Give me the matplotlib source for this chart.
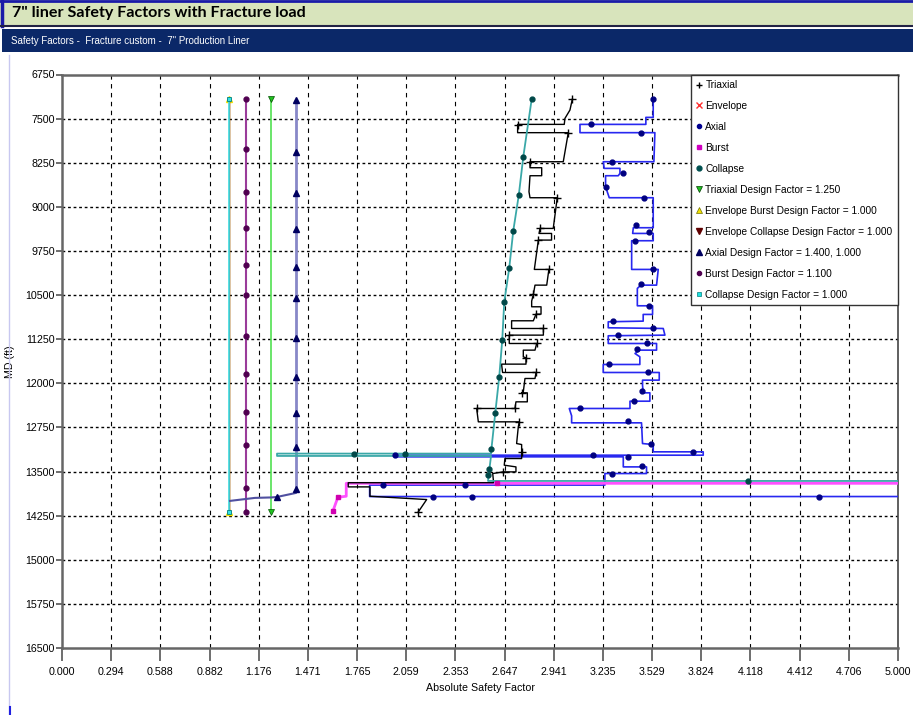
import matplotlib
matplotlib.use("Agg")
import matplotlib.pyplot as plt
from matplotlib.lines import Line2D
from matplotlib.patches import Rectangle
from matplotlib import font_manager
import numpy as np

_names = {f.name for f in font_manager.fontManager.ttflist}
NARROW = "Liberation Sans Narrow" if "Liberation Sans Narrow" in _names else "Liberation Sans"
NARROW_SCALE = 1.0 if NARROW == "Liberation Sans Narrow" else 0.85
TITLEFONT = "Lato" if "Lato" in _names else "DejaVu Sans"

# ---------------- data ----------------
x_ticks = np.linspace(0, 5, 18)
y_ticks = list(range(6750, 16501, 750))

# design factor lines (safety factor, top/bottom MD)
df_top, df_bot = 7160, 14190
collapse_df = 1.000
burst_df = 1.100
triaxial_df = 1.250
axial_df = 1.400
env_burst_df = 1.000
env_collapse_df = 1.000

burst_df_md = [7167, 8017, 8749, 9361, 9990, 10500, 11198, 11844, 12490, 13052, 13783, 14192]
axial_df_md = [7184, 8068, 8766, 9378, 10025, 10552, 11232, 11895, 12507, 13086, 13800]
axial_df_tail_sf = [1.400, 1.400, 1.288, 1.256, 1.154, 1.005]
axial_df_tail_md = [13800, 13863, 13931, 13940, 13948, 13999]
axial_df_tail_mk_sf = [1.288]
axial_df_tail_mk_md = [13931]

# Collapse
col_sf = [2.809, 2.759, 2.732, 2.699, 2.675, 2.645, 2.633, 2.615, 2.591, 2.568,
          2.566, 1.286, 1.286, 2.566, 2.556, 2.548, 6.5]
col_md = [7172, 8148, 8800, 9407, 10036, 10620, 11266, 11890, 12513, 13125,
          13195, 13195, 13235, 13235, 13465, 13660, 13660]
col_mk_sf = [2.809, 2.759, 2.732, 2.699, 2.675, 2.645, 2.633, 2.615, 2.591, 2.568,
             1.746, 2.051, 2.556, 2.548, 4.103]
col_mk_md = [7172, 8148, 8800, 9407, 10036, 10620, 11266, 11890, 12513, 13125,
             13200, 13200, 13465, 13560, 13660]

# Burst
bur_sf = [1.62, 1.65, 1.70, 1.70, 6.5]
bur_md = [14175, 13937, 13920, 13700, 13700]
bur_mk_sf = [1.62, 1.65, 2.60]
bur_mk_md = [14175, 13937, 13700]

# Triaxial
tri_sf = [3.052, 3.038, 3.008, 3.004, 2.725, 2.725, 3.028, 2.998, 2.799, 2.799,
          2.869, 2.869, 2.799, 2.793, 2.799, 2.962, 2.938, 2.859, 2.853, 2.928,
          2.928, 2.849, 2.825, 2.912, 2.899, 2.829, 2.819,
          2.809, 2.809, 2.865, 2.865, 2.835, 2.819, 2.689, 2.689, 2.879, 2.879,
          2.675, 2.675, 2.839, 2.829, 2.759, 2.759, 2.775, 2.775, 2.629, 2.635,
          2.835, 2.829, 2.769, 2.759, 2.749, 2.783, 2.783, 2.715, 2.709, 2.480,
          2.490, 2.735, 2.729, 2.719, 2.749, 2.749, 2.749, 2.649, 2.645, 2.715,
          2.715, 2.639, 2.576, 2.580, 2.580, 1.712, 1.712, 1.842, 1.842, 2.181, 2.131]
tri_md = [7172, 7354, 7496, 7598, 7598, 7739, 7739, 8233, 8233, 8335,
          8335, 8471, 8471, 8743, 8845, 8845, 9367, 9367, 9452, 9452,
          9565, 9565, 10064, 10064, 10331, 10331, 10489,
          10603, 10699, 10699, 10824, 10824, 10937, 10937, 11068, 11068, 11181,
          11181, 11323, 11323, 11436, 11436, 11550, 11567, 11674, 11674, 11816,
          11816, 11918, 11918, 12145, 12162, 12162, 12315, 12315, 12428, 12428,
          12655, 12655, 12740, 13024, 13041, 13165, 13279, 13279, 13392, 13421,
          13506, 13506, 13534, 13647, 13690, 13690, 13761, 13761, 13920, 13976, 14186]
tri_mk_sf = [3.052, 2.725, 3.028, 2.799, 2.962, 2.859, 2.849, 2.912, 2.819, 2.835,
             2.879, 2.675, 2.839, 2.775, 2.835, 2.749, 2.709, 2.480, 2.735, 2.749,
             2.639, 2.131]
tri_mk_md = [7172, 7609, 7739, 8233, 8845, 9367, 9565, 10064, 10489, 10824,
             11068, 11181, 11323, 11567, 11816, 12162, 12428, 12428, 12655, 13165,
             13506, 14186]

# Axial
ax_sf = [3.536, 3.536, 3.492, 3.492, 3.098, 3.098, 3.546, 3.540, 3.237, 3.243,
         3.337, 3.337, 3.327, 3.251, 3.251, 3.273, 3.536, 3.536, 3.417, 3.413,
         3.536, 3.536, 3.407, 3.407, 3.566, 3.556, 3.462, 3.441, 3.441,
         3.532, 3.532, 3.476, 3.476, 3.267, 3.267, 3.596, 3.606, 3.267, 3.267,
         3.556, 3.556, 3.456, 3.427, 3.456, 3.456, 3.237, 3.237, 3.572, 3.572,
         3.472, 3.472, 3.476, 3.516, 3.516, 3.397, 3.397, 3.034, 3.048, 3.048,
         3.466, 3.472, 3.536, 3.536, 3.835, 3.835, 1.99, 1.99, 3.357, 3.357,
         3.496, 3.496, 3.247, 3.247, 1.84, 1.84, 6.5]
ax_md = [7167, 7479, 7479, 7598, 7598, 7739, 7739, 8233, 8233, 8346,
         8346, 8431, 8471, 8471, 8658, 8845, 8845, 9355, 9355, 9452,
         9452, 9576, 9576, 10064, 10064, 10331, 10331, 10387, 10682,
         10682, 10829, 10829, 10943, 10954, 11056, 11068, 11181, 11192, 11323,
         11323, 11436, 11436, 11493, 11549, 11680, 11680, 11816, 11816, 11946,
         11946, 12031, 12162, 12162, 12304, 12304, 12428, 12428, 12553, 12672,
         12672, 13024, 13041, 13165, 13165, 13222, 13222, 13250, 13250, 13421,
         13421, 13534, 13534, 13730, 13730, 13925, 13925]
ax_mk_sf = [3.536, 3.161, 3.460, 3.287, 3.353, 3.251, 3.480, 3.433, 3.512, 3.427,
            3.532, 3.460, 3.512, 3.297, 3.532, 3.323, 3.496, 3.437, 3.273, 3.506,
            3.466, 3.421, 3.098, 3.387, 3.520, 3.771, 3.177, 3.387, 1.99, 3.466,
            3.287, 1.92, 2.41, 2.22, 2.45, 4.53]
ax_mk_md = [7167, 7598, 7739, 8233, 8431, 8658, 8845, 9310, 9435, 9576,
            10064, 10314, 10682, 10943, 11056, 11181, 11323, 11425, 11674, 11816,
            12128, 12304, 12428, 12644, 13035, 13165, 13222, 13250, 13222, 13404,
            13534, 13730, 13730, 13925, 13925, 13925]

legend_labels = ["Triaxial", "Envelope", "Axial", "Burst", "Collapse",
                 "Triaxial Design Factor = 1.250",
                 "Envelope Burst Design Factor = 1.000",
                 "Envelope Collapse Design Factor = 1.000",
                 "Axial Design Factor = 1.400, 1.000",
                 "Burst Design Factor = 1.100",
                 "Collapse Design Factor = 1.000"]

# ---------------- figure ----------------
W, H = 913, 715
fig = plt.figure(figsize=(W / 100, H / 100), dpi=100)
fig.patch.set_facecolor("white")

# header bars
fig.patches.append(Rectangle((0, 1 - 26 / H), 1, 26 / H, transform=fig.transFigure,
                             facecolor="#d8e4bc", edgecolor="none", zorder=0))
fig.add_artist(Line2D([1.5 / W, 1.5 / W], [1 - 26 / H, 1], transform=fig.transFigure,
                      color="#1a1aa8", lw=2.5))
fig.add_artist(Line2D([0, 1], [1 - 1 / H, 1 - 1 / H], transform=fig.transFigure,
                      color="#1a1aa8", lw=2))
fig.add_artist(Line2D([0, 1], [1 - 26 / H, 1 - 26 / H], transform=fig.transFigure,
                      color="#222244", lw=1.5))
fig.patches.append(Rectangle((2 / W, 1 - 52 / H), 1, 23 / H, transform=fig.transFigure,
                             facecolor="#0b2868", edgecolor="none", zorder=0))
fig.text(12 / W, 1 - 13.5 / H, "7\" liner Safety Factors with Fracture load",
         fontsize=11.6, fontweight="bold", family=TITLEFONT, va="center", ha="left",
         color="black")
fig.text(11 / W, 1 - 41 / H, "Safety Factors -  Fracture custom -  7\" Production Liner",
         fontsize=8.3 * NARROW_SCALE, family=NARROW, va="center", ha="left", color="white")
fig.add_artist(Line2D([9 / W, 9 / W], [0, 1 - 55 / H], transform=fig.transFigure,
                      color="#c8c8f0", lw=1))
fig.add_artist(Line2D([10 / W, 10 / W], [0, 8 / H], transform=fig.transFigure,
                      color="#2020e0", lw=1.5))

ax = fig.add_axes([62 / W, 1 - 648 / H, (898 - 62) / W, (648 - 74.5) / H])
ax.set_xlim(0, 5)
ax.set_ylim(16500, 6750)
ax.set_xticks(x_ticks)
ax.set_xticklabels([f"{v:.3f}" for v in x_ticks])
ax.set_yticks(y_ticks)
ax.set_yticklabels([str(v) for v in y_ticks])
for lab in ax.get_xticklabels() + ax.get_yticklabels():
    lab.set_family(NARROW)
    lab.set_fontsize(9 * NARROW_SCALE)
ax.tick_params(axis="x", length=9, width=1.2, color="#555555", pad=5)
ax.tick_params(axis="y", length=4, width=1.2, color="#555555", pad=1)
for s in ax.spines.values():
    s.set_color("#666666")
    s.set_linewidth(1.8)
ax.spines["right"].set_color("#444444")
ax.spines["right"].set_linewidth(1.2)

for xv in x_ticks[1:-1]:
    ax.axvline(xv, color="black", lw=0.8, ls=(0, (4, 4)), zorder=1)
for yv in y_ticks[1:-1]:
    ax.axhline(yv, color="black", lw=1.0, ls=(0, (2, 2)), zorder=1)

ax.set_xlabel("Absolute Safety Factor", family=NARROW, fontsize=9 * NARROW_SCALE, labelpad=4)
ax.set_ylabel("MD (ft)", family=NARROW, fontsize=9 * NARROW_SCALE, labelpad=8)

# design factor lines
ax.plot([env_burst_df, env_burst_df], [df_top, df_bot], color="#e0d000", lw=1, zorder=2)
ax.plot([env_burst_df, env_burst_df], [df_top, df_bot], ls="none", marker="^", ms=4,
        color="#f0e000", zorder=2)
ax.plot([env_collapse_df, env_collapse_df], [df_top, df_bot], color="#700000", lw=1, zorder=2)
ax.plot([collapse_df, collapse_df], [df_top, df_bot], color="#40e8f0", lw=1.2, zorder=3)
ax.plot([collapse_df, collapse_df], [df_top, df_bot], ls="none", marker="s", ms=3.5,
        color="#30e0e8", mec="#008080", mew=0.6, zorder=3)
ax.plot([burst_df] * len(burst_df_md), burst_df_md, color="#9a3c9a", lw=1.5, zorder=3)
ax.plot([burst_df] * len(burst_df_md), burst_df_md, ls="none", marker="o", ms=3.5,
        color="#500050", zorder=3)
ax.plot([triaxial_df, triaxial_df], [df_top, df_bot], color="#50e050", lw=1.2, zorder=3)
ax.plot([triaxial_df, triaxial_df], [df_top, df_bot], ls="none", marker="v", ms=5,
        color="#20c020", mec="#005000", mew=0.5, zorder=3)
ax.plot([axial_df] * len(axial_df_md), axial_df_md, color="#8888c8", lw=2, zorder=3)
ax.plot(axial_df_tail_sf, axial_df_tail_md, color="#5050a0", lw=1.5, zorder=3)
ax.plot([axial_df] * len(axial_df_md), axial_df_md, ls="none", marker="^", ms=5,
        color="#000060", zorder=3)
ax.plot(axial_df_tail_mk_sf, axial_df_tail_mk_md, ls="none", marker="^", ms=5,
        color="#000060", zorder=3)

# load series
ax.plot(ax_sf, ax_md, color="#2828f0", lw=1.2, zorder=4, clip_on=True)
ax.plot(ax_mk_sf, ax_mk_md, ls="none", marker="o", ms=3.5, color="#000080", zorder=6)
ax.plot(bur_sf, bur_md, color="#ff50ff", lw=2, zorder=5)
ax.plot(bur_mk_sf, bur_mk_md, ls="none", marker="s", ms=3.5, color="#d000b0", zorder=6)
ax.plot(tri_sf, tri_md, color="black", lw=1.0, zorder=5)
ax.plot(tri_mk_sf, tri_mk_md, ls="none", marker="+", ms=6, mew=1, color="black", zorder=6)
ax.plot(col_sf, col_md, color="#3aa8a8", lw=1.3, zorder=5)
ax.plot(col_mk_sf, col_mk_md, ls="none", marker="o", ms=3.5, color="#004848", zorder=6)

# legend
handles = [
    Line2D([], [], ls="none", marker="+", color="black", ms=5, mew=1),
    Line2D([], [], ls="none", marker="x", color="#ff3030", ms=4, mew=1),
    Line2D([], [], ls="none", marker="o", color="#000090", ms=3),
    Line2D([], [], ls="none", marker="s", color="#d000c0", ms=3.5),
    Line2D([], [], ls="none", marker="o", color="#005050", ms=3.5),
    Line2D([], [], ls="none", marker="v", color="#20c020", mec="#004000", mew=0.5, ms=4.5),
    Line2D([], [], ls="none", marker="^", color="#f0e000", mec="#707000", mew=0.5, ms=4.5),
    Line2D([], [], ls="none", marker="v", color="#600000", ms=4.5),
    Line2D([], [], ls="none", marker="^", color="#000060", ms=4.5),
    Line2D([], [], ls="none", marker="o", color="#500050", ms=3),
    Line2D([], [], ls="none", marker="s", color="#20e0e0", mec="#008080", mew=0.5, ms=3.5),
]
leg_fs = 8.6 * NARROW_SCALE
leg = ax.legend(handles, legend_labels, loc="upper right", bbox_to_anchor=(1, 1),
                borderaxespad=0, frameon=True, fancybox=False, framealpha=1,
                edgecolor="#333333", handlelength=0.5, handletextpad=0.35,
                labelspacing=1.08, borderpad=0.55,
                prop={"family": NARROW, "size": leg_fs})
leg.get_frame().set_linewidth(1.0)
leg.set_zorder(10)

fig.savefig("out.png", dpi=100)
